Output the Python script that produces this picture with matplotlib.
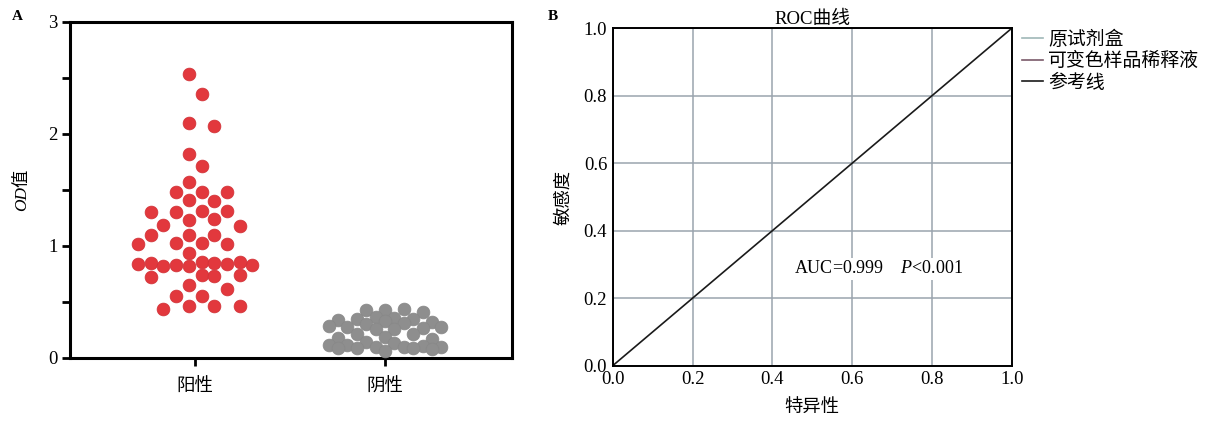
import numpy as np
import matplotlib
matplotlib.use('Agg')
import matplotlib.pyplot as plt
from matplotlib.lines import Line2D

plt.rcParams['font.family'] = ['Liberation Serif', 'Noto Sans CJK SC', 'DejaVu Sans']
plt.rcParams['mathtext.fontset'] = 'custom'
plt.rcParams['mathtext.it'] = 'Liberation Serif:italic'
plt.rcParams['mathtext.rm'] = 'Liberation Serif'

CJK = ['Noto Sans CJK SC', 'DejaVu Sans']
MIX = ['Liberation Serif', 'Noto Sans CJK SC']

# panel A data: OD values for each group
groups = ['阳性', '阴性']
od_pos = [2.54, 2.36, 2.10, 2.07, 1.82, 1.71, 1.57, 1.48, 1.48, 1.48, 1.41, 1.40,
          1.31, 1.30, 1.31, 1.30, 1.24, 1.23, 1.19, 1.18, 1.10, 1.10, 1.10,
          1.03, 1.03, 1.02, 1.02, 0.94, 0.86, 0.83, 0.84, 0.85, 0.83, 0.86,
          0.84, 0.85, 0.82, 0.82, 0.74, 0.74, 0.72, 0.73, 0.65, 0.62, 0.55,
          0.55, 0.46, 0.46, 0.44, 0.46]
od_neg = [0.43, 0.44, 0.43, 0.41, 0.37, 0.36, 0.35, 0.35, 0.34, 0.32, 0.33,
          0.31, 0.30, 0.29, 0.28, 0.28, 0.27, 0.26, 0.26, 0.21, 0.21, 0.19,
          0.18, 0.17, 0.14, 0.13, 0.12, 0.12, 0.11, 0.10, 0.10, 0.10, 0.09,
          0.09, 0.09, 0.08, 0.06]

# panel B data: ROC curves (they run along the left and top edges)
roc_kit_x = [0.0, 0.0, 1.0]
roc_kit_y = [0.0, 1.0, 1.0]
roc_new_x = [0.0, 0.0, 1.0]
roc_new_y = [0.0, 1.0, 1.0]
ref_x = [0.0, 1.0]
ref_y = [0.0, 1.0]
legend_labels = ['原试剂盒', '可变色样品稀释液', '参考线']
auc_text = 'AUC=0.999    $P$<0.001'

W, H, DPI = 12.2, 4.25, 100
fig = plt.figure(figsize=(W, H), dpi=DPI)

# ---------------- panel A ----------------
pos1 = [70 / 1220, 67 / 425, 442 / 1220, 336 / 425]
ax1 = fig.add_axes(pos1)
xlim1 = (0.34, 2.67)
ylim1 = (0, 3)
ax1.set_xlim(*xlim1)
ax1.set_ylim(*ylim1)

px_x = pos1[2] * W * DPI / (xlim1[1] - xlim1[0])
px_y = pos1[3] * H * DPI / (ylim1[1] - ylim1[0])


def swarm(values, col_px, diam_px, half, max_col):
    # simple grid beeswarm, returns x offsets in data units
    placed = []
    offs = []
    for i, v in enumerate(values):
        sgn = -1 if i % 2 == 0 else 1
        if half:
            cols = []
            for k in range(max_col):
                cols += [sgn * (k + 0.5), -sgn * (k + 0.5)]
        else:
            cols = [0]
            for k in range(1, max_col + 1):
                cols += [sgn * k, -sgn * k]
        yp = v * px_y
        best, best_d = None, -1
        for c in cols:
            xp = c * col_px
            d = min([np.hypot(xp - a, yp - b) for a, b in placed] + [1e9])
            if d >= diam_px:
                best = c
                break
            if d > best_d:
                best, best_d = c, d
        placed.append((best * col_px, yp))
        offs.append(best * col_px / px_x)
    return np.array(offs)


off_pos = swarm(od_pos, 12.7, 14.5, True, 5)
off_neg = swarm(od_neg, 9.4, 11.5, False, 6)

ax1.scatter(1 + off_pos, od_pos, s=85, color='#e2383d', edgecolors='#d03036',
            linewidths=0.5, zorder=3, clip_on=False)
ax1.scatter(2 + off_neg, od_neg, s=85, color='#8e8e8e', edgecolors='#888888',
            linewidths=0.5, zorder=3, clip_on=False)

for s in ax1.spines.values():
    s.set_linewidth(2.2)
ax1.set_xticks([1, 2])
ax1.set_xticklabels(groups, family=CJK, fontsize=13.3)
ax1.set_yticks([0, 1, 2, 3])
ax1.set_yticks([0.5, 1.5, 2.5], minor=True)
ax1.tick_params(axis='y', which='both', direction='out', length=6, width=2,
                labelsize=13.5, pad=3)
ax1.tick_params(axis='x', direction='out', length=6, width=2, pad=8)
ax1.set_ylabel('OD值', fontsize=12.5, family=MIX, style='italic', labelpad=13)

fig.text(12 / 1220, 1 - 16 / 425, 'A', fontsize=11, fontweight='bold',
         ha='left', va='center')

# ---------------- panel B ----------------
pos2 = [612.7 / 1220, 59.3 / 425, 399 / 1220, 337.4 / 425]
ax2 = fig.add_axes(pos2)
ax2.set_xlim(0, 1)
ax2.set_ylim(0, 1)
ticks = [0.0, 0.2, 0.4, 0.6, 0.8, 1.0]
ax2.set_xticks(ticks)
ax2.set_yticks(ticks)
ax2.set_xticklabels(['%.1f' % t for t in ticks])
ax2.set_yticklabels(['%.1f' % t for t in ticks])
ax2.grid(True, color='#9aa4ae', linewidth=1.1)
ax2.set_axisbelow(True)
ax2.tick_params(length=0, labelsize=13.5, pad=4)
for s in ax2.spines.values():
    s.set_linewidth(1.4)
    s.set_zorder(5)

ax2.plot(roc_kit_x, roc_kit_y, color='#9fb8b8', lw=1.2, zorder=2)
ax2.plot(roc_new_x, roc_new_y, color='#7a5a6a', lw=1.2, zorder=2)
ax2.plot(ref_x, ref_y, color='#1a1a1a', lw=1.2, zorder=3)

ax2.text(0.454, 0.287, auc_text, fontsize=13, ha='left', va='center',
         bbox=dict(facecolor='white', edgecolor='none', pad=2), zorder=4)
ax2.set_title('ROC曲线', fontsize=13.5, family=MIX, pad=1)
ax2.set_xlabel('特异性', family=CJK, fontsize=13.2, labelpad=7)
ax2.set_ylabel('敏感度', family=CJK, fontsize=13.2, labelpad=8)

fig.text(548 / 1220, 1 - 16 / 425, 'B', fontsize=11, fontweight='bold',
         ha='left', va='center')

handles = [Line2D([], [], color='#9fb8b8', lw=1.2),
           Line2D([], [], color='#7a5a6a', lw=1.2),
           Line2D([], [], color='#1a1a1a', lw=1.2)]
fig.legend(handles, legend_labels, loc='upper left',
           bbox_to_anchor=(1022 / 1220, 1 - 29 / 425), frameon=False,
           prop={'family': CJK, 'size': 13.6}, handlelength=1.1,
           handletextpad=0.3, labelspacing=0.02, borderaxespad=0, borderpad=0)

fig.savefig('out.png', dpi=DPI)
